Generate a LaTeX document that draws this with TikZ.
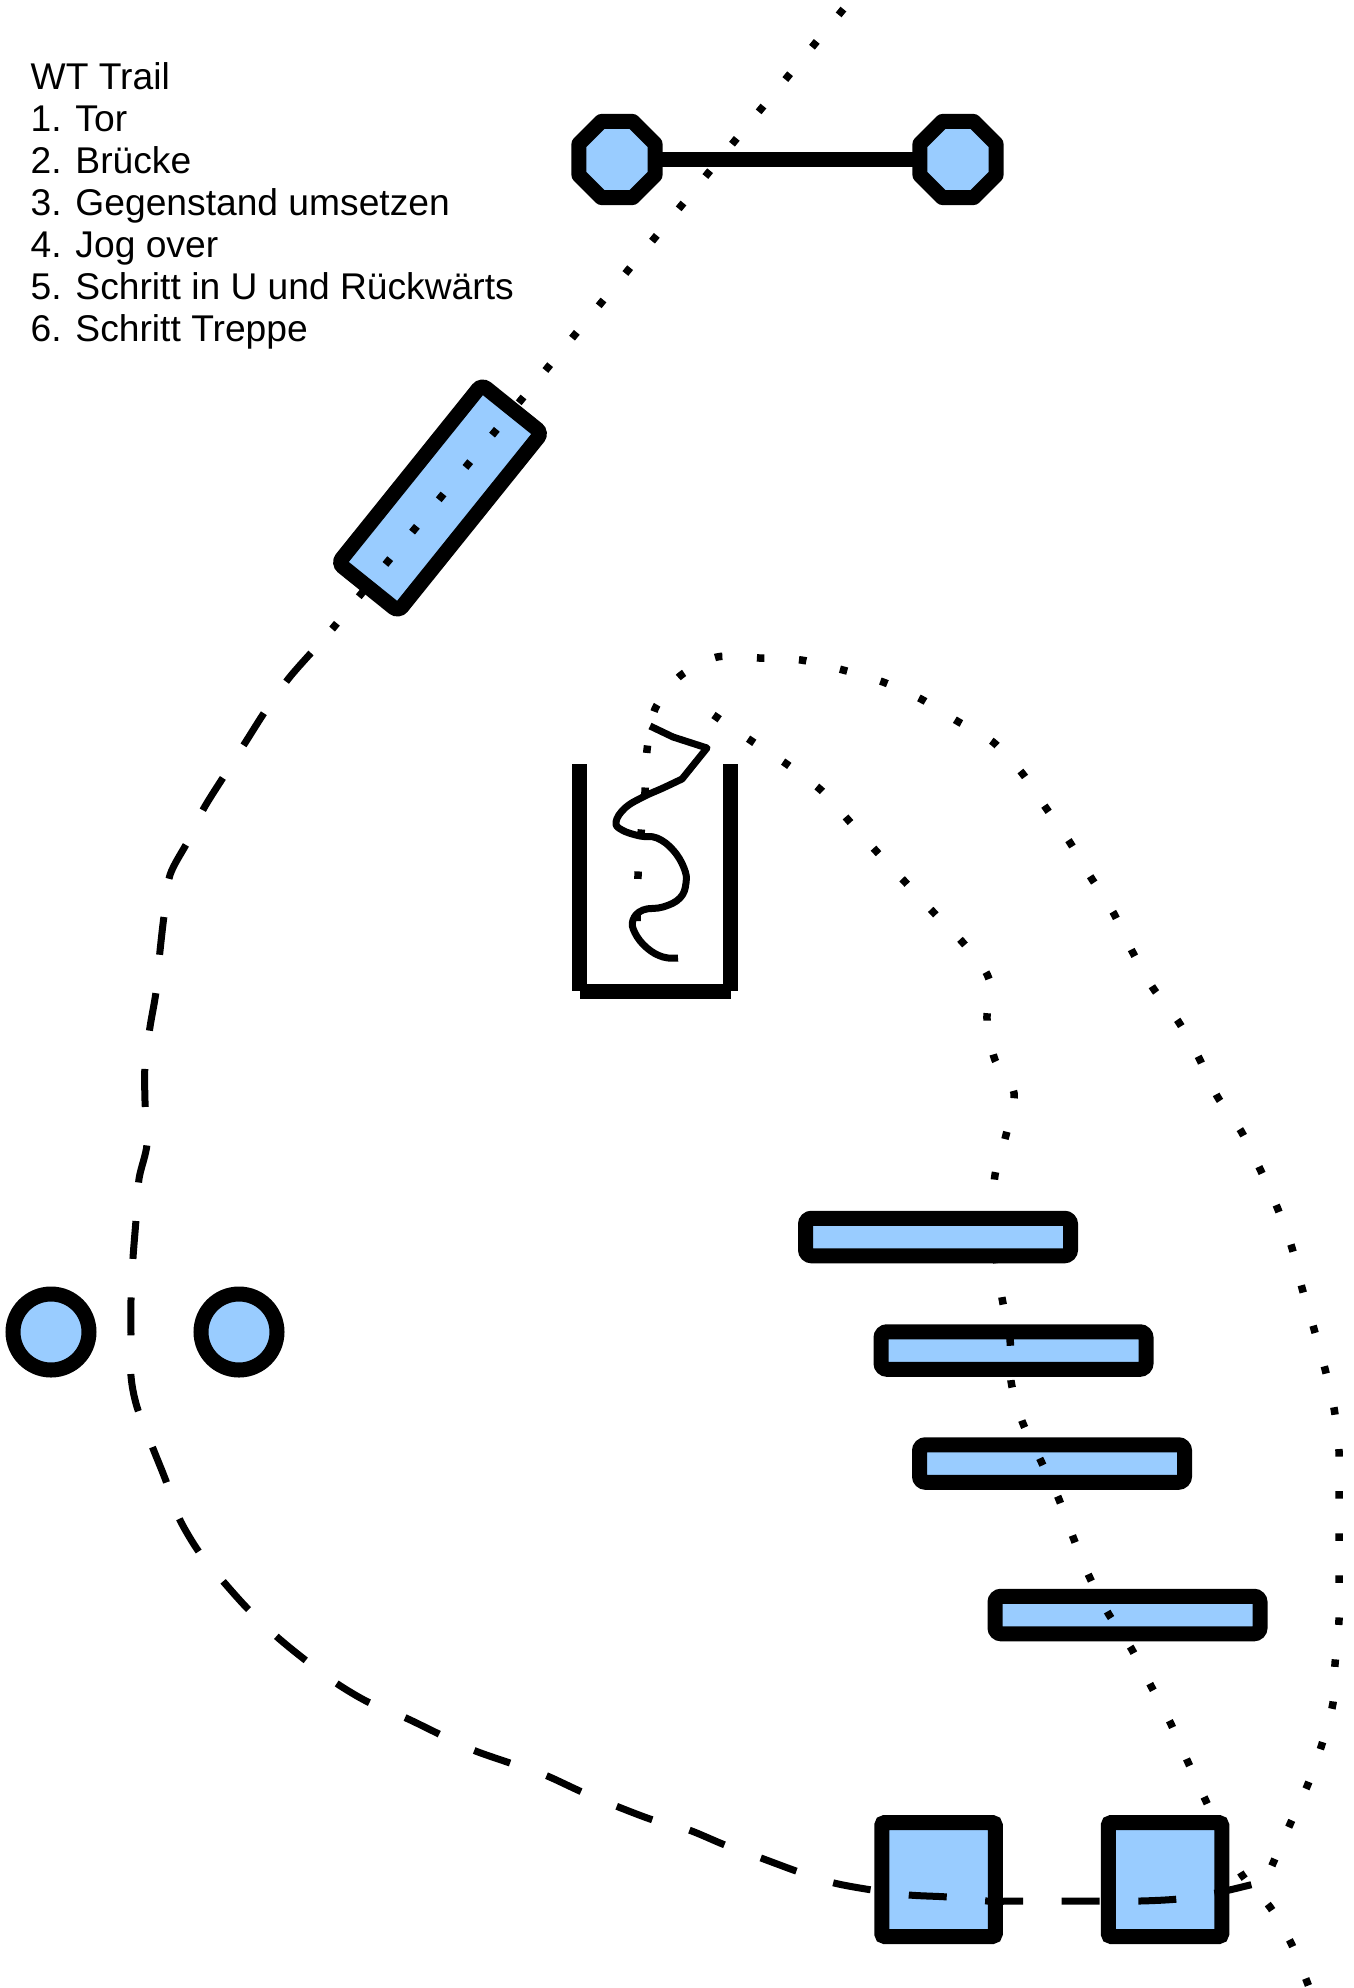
\documentclass[tikz,border=0pt]{standalone}
\usepackage{fontspec}
\usepackage{xcolor}
\usepackage{tikz}
\usetikzlibrary{shapes.geometric}
\setmainfont{Liberation Sans}
\definecolor{obstaclefill}{RGB}{153,204,255}
\tikzset{
	obstacle/.style={draw=black,fill=obstaclefill,line width=15pt,inner sep=0pt,outer sep=0pt},
	rail/.style={obstacle,rounded corners=6pt,minimum width=265pt,minimum height=37.5pt},
	block/.style={obstacle,rounded corners=3pt,minimum width=113.5pt,minimum height=114pt},
	bridge/.style={obstacle,rounded corners=6pt,minimum width=229pt,minimum height=77pt,rotate=51.2},
	post/.style={obstacle,line join=round,regular polygon,regular polygon sides=8,minimum size=82.3pt},
	cone/.style={obstacle,circle,minimum size=76pt},
	walkline/.style={line width=7.5pt,dash pattern=on 7.5pt off 34.4pt},
	jogline/.style={line width=7pt,dash pattern=on 38pt off 38.6pt},
	legend/.style={anchor=north west,align=left,inner sep=0pt,font=\fontsize{37.2pt}{42pt}\selectfont}
}

\begin{document}
\begin{tikzpicture}[x=1pt,y=-1pt]
	\useasboundingbox (0,0) rectangle (1353,1988);
	\node[legend] (title) at (30.5,62) {WT Trail\\1. Tor\\2. Brücke\\3. Gegenstand umsetzen\\4. Jog over\\5. Schritt in U und Rückwärts\\6. Schritt Treppe};
	% gate
	\node[post] (postL) at (617,159.5) {};
	\node[post] (postR) at (958,159.5) {};
	\draw[line width=15pt] (postL) -- (postR);
	\node[bridge] (span) at (440,498) {};
	\foreach \x/\n in {51/1,239/2}
	\node[cone] (cone\n) at (\x,1332) {};
	\foreach \x/\y/\n in {938/1237/1,1013.5/1350.5/2,1052/1463.5/3,1127.5/1615/4}
	\node[rail] (rail\n) at (\x,\y) {};
	\foreach \x/\n in {938.5/1,1165/2}
	\node[block] (block\n) at (\x,1879.5) {};
	% u shape
	\draw[line width=15pt] (579.5,764) -- (579.5,991);
	\draw[line width=15pt] (730.5,764) -- (730.5,991);
	\draw[line width=15pt] (579.5,991) -- (730.5,991);
	% trail
	\draw[walkline] (843.4,9.1) -- (333,628) -- (311,653);
	\draw[jogline] plot[smooth] coordinates {(311,653) (289,678) (266,710) (245,743) (226,773) (204,808) (188,841) (170,875) (164,916) (160,951) (156,992) (150,1027) (145,1065) (145,1101) (147,1144) (139,1179) (136,1220) (133,1258) (131,1300) (131,1334) (131,1376) (137,1407) (152,1446) (166,1481) (179,1518) (199,1552) (222,1580) (247,1608) (276,1636) (304,1659) (336,1683) (368,1702) (406,1718) (437,1733) (473,1750) (510,1763) (545,1775) (582,1792) (616,1806) (653,1820) (689,1830) (725,1845) (761,1858) (799,1872) (834,1883) (872,1890) (909,1895) (948,1897) (987,1901) (1025,1901) (1063,1901) (1102,1901) (1140,1901) (1178,1899) (1216,1893) (1254,1884)};
	\draw[walkline,dash pattern=on 7.5pt off 34.6pt] plot[smooth] coordinates {(637,921) (638,876) (641,834) (645,792) (647,750) (655,709) (680,676) (717,657) (759,658) (801,660) (843,670) (883,682) (921,699) (957,721) (993,742) (1022,773) (1046,808) (1069,841) (1090,876) (1113,912) (1132,951) (1153,988) (1178,1021) (1198,1056) (1217,1096) (1241,1131) (1260,1169) (1277,1207) (1292,1248) (1302,1288) (1314,1329) (1325,1369) (1334,1408) (1339,1451) (1339,1494) (1339,1536) (1339,1579) (1339,1620) (1335,1664) (1333,1703) (1322,1744) (1308,1784) (1291,1822) (1270,1870)};
	\draw[walkline] plot[smooth] coordinates {(713.5,715) (753,742) (788,765) (822,791) (850,822) (877,852) (907,884) (936,915) (965,945) (989,979) (987,1021) (995,1060) (1014,1093) (1006,1135) (995,1175) (993,1216) (996,1257) (1002,1298) (1010,1339) (1011,1381) (1022,1421) (1040,1459) (1058,1497) (1073,1537) (1089,1576) (1108,1613) (1131,1648) (1151,1686) (1170,1722) (1187,1760) (1205,1799) (1223,1837) (1242,1875) (1270,1907) (1291,1943) (1309,1987)};
	% back up in the u
	\draw[line width=7pt,line join=round] (650,726) -- (673,737) -- (707,748) -- (682,779) -- plot[smooth,tension=0.7] coordinates {(682,779) (663,788) (643,797) (625,808) (616,822) (622,830) (640,836) (657,838) (673,850) (684,868) (686,883) (680,898) (663,907) (643,910) (633,920) (635,933) (647,948) (663,957) (678,958)};
\end{tikzpicture}
\end{document}
